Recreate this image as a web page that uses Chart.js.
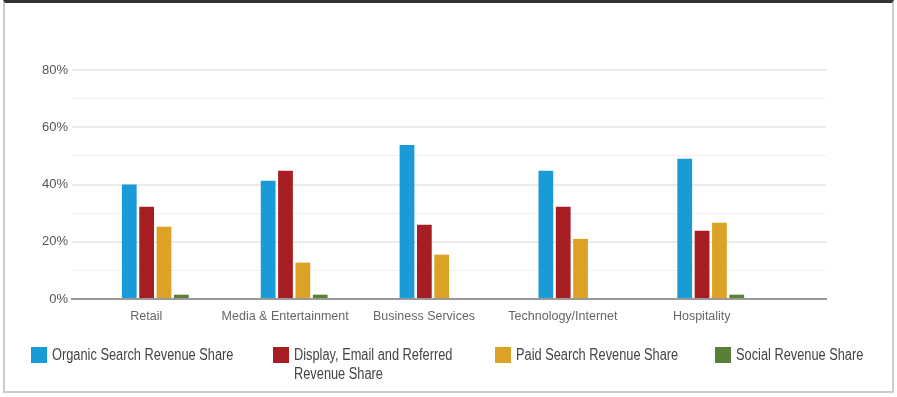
<!DOCTYPE html>
<html lang="en">
<head>
  <meta charset="UTF-8">
  <title>Revenue Share by Channel</title>
  <script src="https://cdn.jsdelivr.net/npm/chart.js"></script>
  <style>
    body { margin: 0; background: #fff; font-family: "Liberation Sans", Arial, sans-serif; }
    #frame { position: absolute; left: 3px; top: 0px; width: 887px; height: 388px; border: 2px solid #cfcbcb; border-top: 3px solid #333; }
    #wrap { position: absolute; left: 0; top: 0; width: 897px; height: 397px; }
    #legend { position: absolute; left: 0; top: 345px; width: 897px; }
    .item { position: absolute; top: 0; font-size: 16px; color: #444; line-height: 19px; }
    .box { position: absolute; left: 0; top: 2px; width: 16px; height: 16px; }
    .txt { position: absolute; left: 21px; top: 0; white-space: nowrap; transform: scaleX(0.8); transform-origin: 0 0; }
  </style>
</head>
<body>
  <div id="frame"></div>
  <div id="wrap"><canvas id="chart" width="897" height="397"></canvas></div>
  <div id="legend"></div>

  <script>
    const categories = ['Retail', 'Media & Entertainment', 'Business Services', 'Technology/Internet', 'Hospitality'];
    const seriesNames = [
      'Organic Search Revenue Share',
      ['Display, Email and Referred', 'Revenue Share'],
      'Paid Search Revenue Share',
      'Social Revenue Share'
    ];
    const seriesColors = ['#1a9ad6', '#a61e22', '#dba226', '#5c7f37'];
    const organic = [40, 41.3, 53.8, 44.8, 49];
    const display = [32.2, 44.8, 25.9, 32.2, 23.8];
    const paid = [25.2, 12.7, 15.5, 21, 26.6];
    const social = [1.5, 1.5, 0, 0, 1.5];
    const yTicks = [0, 20, 40, 60, 80];
    const legendX = [31, 273, 495, 715];

    const allSeries = [organic, display, paid, social];
    const font = '"Liberation Sans", Arial, sans-serif';

    // legend in html, because the second label wraps on two lines
    const legend = document.getElementById('legend');
    seriesNames.forEach((name, i) => {
      const el = document.createElement('div');
      el.className = 'item';
      el.style.left = legendX[i] + 'px';
      const text = Array.isArray(name) ? name.join('<br>') : name;
      el.innerHTML = `<div class="box" style="background:${seriesColors[i]}"></div><div class="txt">${text}</div>`;
      legend.appendChild(el);
    });

    const datasets = allSeries.map((vals, i) => ({
      label: Array.isArray(seriesNames[i]) ? seriesNames[i].join(' ') : seriesNames[i],
      data: vals.map((v, j) => ({ x: j, y: v })),
      backgroundColor: seriesColors[i],
      borderWidth: 0,
      categoryPercentage: 0.5,
      barPercentage: 0.85
    }));

    new Chart(document.getElementById('chart'), {
      type: 'bar',
      data: { datasets },
      options: {
        responsive: false,
        animation: false,
        layout: { padding: { top: 70, right: 71, bottom: 0, left: 0 } },
        plugins: { legend: { display: false }, tooltip: { enabled: false } },
        scales: {
          x: {
            type: 'linear',
            offset: false,
            min: -0.6,
            max: 4.83,
            afterBuildTicks: s => { s.ticks = categories.map((c, i) => ({ value: i })); },
            afterFit: s => { s.height = 98; },
            grid: { display: false, drawTicks: false },
            border: { color: '#999', width: 2 },
            ticks: {
              autoSkip: false,
              maxRotation: 0,
              padding: 10,
              labelOffset: -9,
              color: '#666',
              font: { family: font, size: 12.5 },
              callback: v => categories[v]
            }
          },
          y: {
            min: 0,
            max: 80,
            afterFit: s => { s.width = 72; },
            ticks: {
              stepSize: 10,
              padding: 4,
              color: '#555',
              font: { family: font, size: 13 },
              callback: v => yTicks.includes(v) ? v + '%' : ''
            },
            grid: {
              drawTicks: false,
              color: ctx => (ctx.tick && ctx.tick.value % 20 === 0) ? '#ebebeb' : '#f0f0f0',
              lineWidth: ctx => (ctx.tick && ctx.tick.value % 20 === 0) ? 2 : 1
            },
            border: { display: false }
          }
        }
      }
    });
  </script>
</body>
</html>
